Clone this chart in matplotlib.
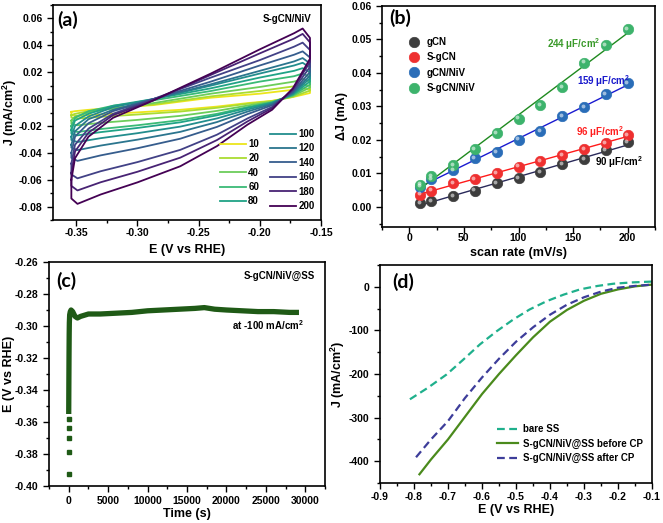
"""Four-panel electrochemistry figure: CV, Cdl fit, chronopotentiometry, LSV."""
import matplotlib

matplotlib.use("Agg")
import matplotlib.pyplot as plt
import numpy as np
from matplotlib.ticker import MultipleLocator, FormatStrFormatter
from matplotlib.transforms import offset_copy

plt.rcParams["font.family"] = ["Liberation Sans", "DejaVu Sans"]
plt.rcParams["font.weight"] = "bold"
plt.rcParams["axes.labelweight"] = "bold"
plt.rcParams["axes.unicode_minus"] = False
plt.rcParams["mathtext.fontset"] = "custom"
plt.rcParams["mathtext.rm"] = "Liberation Sans:bold"
plt.rcParams["mathtext.bf"] = "Liberation Sans:bold"
plt.rcParams["mathtext.default"] = "bf"

# ---- (a) CV loops of S-gCN/NiV at different scan rates (mV/s)
scan_rates = [10, 20, 40, 60, 80, 100, 120, 140, 160, 180, 200]
e_up = [-0.354, -0.351, -0.340, -0.320, -0.287, -0.240, -0.200, -0.172, -0.165]
e_dn = [-0.159, -0.159, -0.173, -0.190, -0.210, -0.235, -0.265, -0.300, -0.330, -0.349, -0.354]
j_up = [
    [-0.0095, -0.009, -0.008, -0.0065, -0.0045, 0.001, 0.004, 0.007, 0.008],
    [-0.012, -0.011, -0.009, -0.007, -0.004, 0.002, 0.006, 0.0095, 0.011],
    [-0.016, -0.013, -0.010, -0.007, -0.003, 0.004, 0.009, 0.013, 0.015],
    [-0.020, -0.014, -0.009, -0.005, -0.001, 0.006, 0.013, 0.017, 0.019],
    [-0.023, -0.016, -0.011, -0.005, 0.000, 0.008, 0.016, 0.021, 0.023],
    [-0.028, -0.020, -0.013, -0.006, 0.000, 0.010, 0.019, 0.025, 0.027],
    [-0.034, -0.024, -0.015, -0.008, 0.000, 0.011, 0.021, 0.028, 0.0305],
    [-0.040, -0.028, -0.018, -0.009, 0.000, 0.013, 0.025, 0.033, 0.0355],
    [-0.048, -0.034, -0.022, -0.011, 0.000, 0.016, 0.029, 0.039, 0.042],
    [-0.055, -0.039, -0.025, -0.012, -0.001, 0.018, 0.034, 0.045, 0.0485],
    [-0.060, -0.044, -0.028, -0.014, -0.001, 0.019, 0.037, 0.049, 0.0525],
]
j_dn = [
    [0.007, 0.0045, 0.0015, -0.0013, -0.003, -0.0056, -0.008, -0.0099, -0.0114, -0.0125, -0.0119],
    [0.0096, 0.0063, 0.0017, -0.0015, -0.0035, -0.0065, -0.0093, -0.0115, -0.0132, -0.0145, -0.0138],
    [0.013, 0.0086, 0.0023, -0.002, -0.0048, -0.0088, -0.0125, -0.0155, -0.0177, -0.0195, -0.0185],
    [0.0165, 0.0108, 0.0029, -0.0025, -0.006, -0.011, -0.0157, -0.0195, -0.0223, -0.0245, -0.0233],
    [0.020, 0.0131, 0.0035, -0.0027, -0.0066, -0.0121, -0.0173, -0.0215, -0.0246, -0.027, -0.0257],
    [0.0235, 0.0154, 0.004, -0.0032, -0.0078, -0.0144, -0.0205, -0.0254, -0.0291, -0.032, -0.0304],
    [0.0265, 0.0174, 0.0046, -0.0038, -0.0093, -0.0171, -0.0244, -0.0302, -0.0346, -0.038, -0.0361],
    [0.0309, 0.0202, 0.0053, -0.0046, -0.0112, -0.0207, -0.0295, -0.0366, -0.0419, -0.046, -0.0437],
    [0.0365, 0.0239, 0.0063, -0.0059, -0.0144, -0.0265, -0.0378, -0.0469, -0.0537, -0.059, -0.0561],
    [0.0422, 0.0276, 0.0073, -0.0068, -0.0166, -0.0305, -0.0436, -0.0541, -0.0619, -0.068, -0.0646],
    [0.0455, 0.030, 0.008, -0.008, -0.019, -0.035, -0.050, -0.062, -0.071, -0.078, -0.074],
]

# ---- (b) delta J vs scan rate
rates_b = [10, 20, 40, 60, 80, 100, 120, 140, 160, 180, 200]
dj_gcn = [0.0012, 0.0017, 0.0032, 0.0049, 0.0071, 0.0086, 0.0103, 0.0127, 0.0142, 0.0170, 0.0193]
dj_sgcn = [0.0037, 0.0049, 0.0070, 0.0082, 0.0100, 0.0120, 0.0137, 0.0155, 0.0173, 0.0191, 0.0215]
dj_gcn_niv = [0.0060, 0.0082, 0.0110, 0.0146, 0.0164, 0.0201, 0.0227, 0.0271, 0.0297, 0.0337, 0.0369]
dj_sgcn_niv = [0.0066, 0.0092, 0.0125, 0.0173, 0.0221, 0.0264, 0.0304, 0.0358, 0.0431, 0.0483, 0.0530]
cdl_labels = ["90 μF/cm$^2$", "96 μF/cm$^2$", "159 μF/cm$^2$", "244 μF/cm$^2$"]

# ---- (c) chronopotentiometry at -100 mA/cm2
t_cp = [0, 20, 40, 60, 80, 120, 200, 300, 500, 800, 1100, 1500, 2500, 4000, 6000, 8000,
        10000, 12000, 14000, 16000, 17200, 18500, 20000, 22000, 24000, 26000, 28000, 29200]
e_cp = [-0.355, -0.335, -0.318, -0.305, -0.298, -0.293, -0.291, -0.290, -0.291, -0.294,
        -0.295, -0.294, -0.2925, -0.2925, -0.292, -0.2915, -0.2905, -0.290, -0.2895, -0.289,
        -0.2885, -0.2895, -0.290, -0.2905, -0.291, -0.291, -0.2915, -0.2915]
t_start = [0, 0, 0, 0, 0]
e_start = [-0.3584, -0.3637, -0.3700, -0.3787, -0.3923]

# ---- (d) LSV before / after CP
e_bare = [-0.812, -0.76, -0.704, -0.655, -0.606, -0.557, -0.508, -0.46, -0.41, -0.36,
          -0.312, -0.26, -0.214, -0.16, -0.10]
j_bare = [-258, -232, -201, -167, -132, -102, -75, -52, -33, -18, -6, 2, 7, 10, 12]
e_lsv = [-0.784, -0.75, -0.70, -0.65, -0.60, -0.55, -0.50, -0.45, -0.40, -0.35, -0.30,
         -0.25, -0.20, -0.15, -0.10]
j_before = [-430, -396, -350, -298, -246, -200, -157, -116, -80, -53, -32, -16, -6, 1, 5]
e_after = [-0.794, -0.75, -0.70, -0.65, -0.60, -0.55, -0.50, -0.45, -0.40, -0.35, -0.30,
           -0.25, -0.20, -0.15, -0.10]
j_after = [-391, -350, -308, -255, -208, -165, -126, -93, -64, -41, -24, -11, -2, 2, 5]


def style(ax, xmaj, xmin, ymaj, ymin, xpad):
    ax.xaxis.set_major_locator(MultipleLocator(xmaj))
    ax.xaxis.set_minor_locator(MultipleLocator(xmin))
    ax.yaxis.set_major_locator(MultipleLocator(ymaj))
    ax.yaxis.set_minor_locator(MultipleLocator(ymin))
    ax.tick_params(which="both", direction="out", top=False, right=False, labelsize=7.5, width=1)
    ax.tick_params(which="major", length=4)
    ax.tick_params(which="minor", length=2.5)
    ax.tick_params(axis="x", which="major", pad=xpad)
    for s in ax.spines.values():
        s.set_linewidth(1.2)


def panel_label(ax, txt, x, y):
    ax.text(x, y, txt, transform=ax.transAxes, fontsize=14, fontweight="bold",
            family=["Lato", "DejaVu Sans"], va="center", ha="left")


def labels(ax, xlabel, ylabel, xy, yx):
    ax.set_xlabel(xlabel, fontsize=9)
    ax.set_ylabel(ylabel, fontsize=9)
    ax.xaxis.set_label_coords(0.5, xy)
    ax.yaxis.set_label_coords(yx, 0.5)


fig = plt.figure(figsize=(6.63, 5.23), dpi=100)
W, H = 663, 523


def add_axes(l, r, t, b):
    return fig.add_axes([l / W, (H - b) / H, (r - l) / W, (b - t) / H])


# (a)
ax = add_axes(53, 321, 5, 220)
colors = plt.cm.viridis(np.linspace(0.97, 0.0, len(scan_rates)))
handles = []
for rate, ju, jd, c in zip(scan_rates, j_up, j_dn, colors):
    xs = e_up + e_dn + [e_up[0]]
    ys = ju + jd + [ju[0]]
    h, = ax.plot(xs, ys, color=c, lw=1.3, label=str(rate))
    handles.append(h)
ax.set_xlim(-0.369, -0.15)
ax.set_ylim(-0.09, 0.07)
style(ax, 0.05, 0.025, 0.02, 0.01, 1.5)
ax.xaxis.set_major_formatter(FormatStrFormatter("%.2f"))
ax.yaxis.set_major_formatter(FormatStrFormatter("%.2f"))
labels(ax, "E (V vs RHE)", "J (mA/cm$^2$)", -0.11, -0.125)
panel_label(ax, "(a)", 0.015, 0.93)
ax.text(0.966, 0.935, "S-gCN/NiV", transform=ax.transAxes, fontsize=7, ha="right", va="center")
leg_kw = dict(loc="upper left", frameon=False, fontsize=7, handlelength=2.7,
              handletextpad=0.2, labelspacing=0.45, borderpad=0, borderaxespad=0)
leg1 = ax.legend(handles=handles[:5], bbox_to_anchor=(0.623, 0.377), **leg_kw)
ax.add_artist(leg1)
ax.legend(handles=handles[5:], bbox_to_anchor=(0.81, 0.423), **leg_kw)

# (b)
ax = add_axes(382, 655, 6, 227)
series_b = [
    ("gCN", dj_gcn, "#3d3d3d", "#2a2a5a", "black"),
    ("S-gCN", dj_sgcn, "#ee3030", "#ff1a1a", "#ff2020"),
    ("gCN/NiV", dj_gcn_niv, "#2a6db8", "#1a1ad0", "#1a1acc"),
    ("S-gCN/NiV", dj_sgcn_niv, "#3db36c", "#1f8a1f", "#3a9a2a"),
]
hl_tr = offset_copy(ax.transData, fig=fig, x=-1.0, y=1.0, units="points")
xfit = np.array([rates_b[0], rates_b[-1]])
leg_handles = []
for name, ys, c, lc, _ in series_b:
    k, b0 = np.polyfit(rates_b, ys, 1)
    ax.plot(xfit, k * xfit + b0, color=lc, lw=1.0, zorder=2)
for name, ys, c, lc, _ in series_b:
    h, = ax.plot(rates_b, ys, "o", ms=7.5, mfc=c, mec=c, mew=0.5, label=name, zorder=3)
    ax.plot(rates_b, ys, "o", ms=2.8, mfc="white", mec="none", alpha=0.55,
            transform=hl_tr, zorder=4)
    leg_handles.append(h)
ax.set_xlim(-25, 225)
ax.set_ylim(-0.006, 0.06)
style(ax, 50, 25, 0.01, 0.005, 0.5)
ax.yaxis.set_major_formatter(FormatStrFormatter("%.2f"))
labels(ax, "scan rate (mV/s)", "ΔJ (mA)", -0.09, -0.125)
panel_label(ax, "(b)", 0.025, 0.945)
ax.legend(handles=leg_handles, loc="upper left", bbox_to_anchor=(0.10, 0.86), frameon=False,
          fontsize=7, handlelength=1.0, handletextpad=0.8, labelspacing=0.55,
          borderpad=0, borderaxespad=0)
ann_pos = [(170, 0.0135), (153, 0.0223), (154, 0.0376), (126, 0.0485)]
for (name, ys, c, lc, tc), txt, (tx, ty) in zip(series_b, cdl_labels, ann_pos):
    ax.text(tx, ty, txt, color=tc, fontsize=7, va="center", ha="left")

# (c)
ax = add_axes(49, 325, 262, 486)
green_c = "#1f5a16"
ax.plot(t_cp, e_cp, color=green_c, lw=3.8, solid_capstyle="butt")
ax.plot(t_start, e_start, "s", color=green_c, ms=3.2)
ax.set_xlim(-2500, 32500)
ax.set_ylim(-0.40, -0.26)
style(ax, 5000, 2500, 0.02, 0.01, 3)
ax.yaxis.set_major_formatter(FormatStrFormatter("%.2f"))
labels(ax, "Time (s)", "E (V vs RHE)", -0.096, -0.122)
panel_label(ax, "(c)", 0.025, 0.915)
ax.text(0.964, 0.9375, "S-gCN/NiV@SS", transform=ax.transAxes, fontsize=7,
        ha="right", va="center")
ax.text(0.663, 0.72, "at -100 mA/cm$^2$", transform=ax.transAxes, fontsize=7,
        ha="left", va="center")

# (d)
ax = add_axes(380, 652, 265, 483)
ax.plot(e_bare, j_bare, color="#1fb08c", lw=1.6, ls=(0, (3.5, 2)), label="bare SS")
ax.plot(e_lsv, j_before, color="#4a8a1c", lw=1.6, label="S-gCN/NiV@SS before CP")
ax.plot(e_after, j_after, color="#3d3d9a", lw=1.6, ls=(0, (3.5, 2)),
        label="S-gCN/NiV@SS after CP")
ax.set_xlim(-0.9, -0.1)
ax.set_ylim(-450, 50)
style(ax, 0.1, 0.05, 100, 50, 2.5)
ax.xaxis.set_major_formatter(FormatStrFormatter("%.1f"))
labels(ax, "E (V vs RHE)", "J (mA/cm$^2$)", -0.097, -0.12)
panel_label(ax, "(d)", 0.045, 0.924)
ax.legend(loc="lower left", bbox_to_anchor=(0.43, 0.09), frameon=False, fontsize=7,
          handlelength=2.2, handletextpad=0.5, labelspacing=0.45, borderpad=0,
          borderaxespad=0)

fig.savefig("out.png", dpi=100)
